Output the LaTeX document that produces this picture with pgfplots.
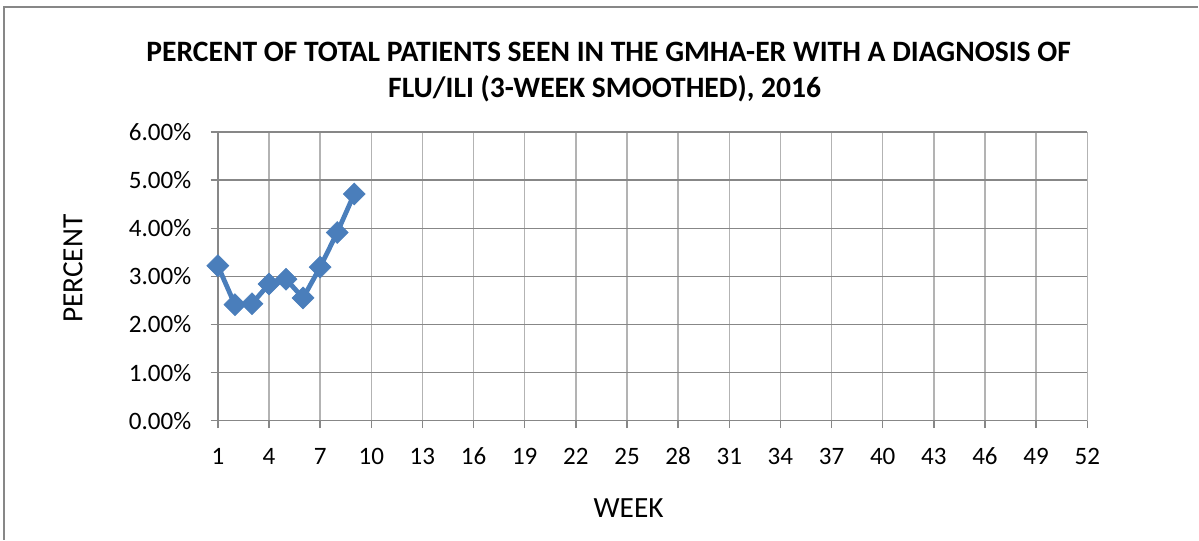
\documentclass[border=0pt]{standalone}
\usepackage{pgfplots}
\pgfplotsset{compat=1.18}
\usepackage{fontspec}
\setmainfont{Carlito}
\definecolor{serieblue}{HTML}{4A7EBB}
\definecolor{hgrid}{HTML}{878787}
\definecolor{vgrid}{HTML}{B3B3B3}
\begin{document}
\begin{tikzpicture}[x=0.75pt,y=0.75pt]
\path (0,0) rectangle (1199,540);
\draw[color=hgrid, line width=1.2pt] (4,0) -- (4,533) -- (1199,533);
\begin{axis}[
  at={(163.5pt,89.25pt)}, anchor=south west,
  scale only axis, width=652.5pt, height=216.75pt,
  xmin=1, xmax=52, ymin=0, ymax=6,
  xtick={1,4,...,52},
  xticklabels={1,4,7,10,13,16,19,22,25,28,31,34,37,40,43,46,49,52},
  ytick={0,1,2,3,4,5,6},
  yticklabels={0.00\%,1.00\%,2.00\%,3.00\%,4.00\%,5.00\%,6.00\%},
  tick align=outside, tick pos=left,
  major tick length=5.5pt,
  tick style={color=hgrid, line width=1pt},
  axis x line*=bottom, axis y line*=left,
  axis line style={color=hgrid, line width=1pt, -},
  ymajorgrids, xmajorgrids,
  y grid style={color=hgrid, line width=1pt},
  x grid style={color=vgrid, line width=1pt},
  ticklabel style={font=\fontsize{18.8}{21}\selectfont, color=black},
  xticklabel style={yshift=-11pt, text height=13pt, text depth=0pt},
  yticklabel style={xshift=-11pt},
  clip=false,
]
\addplot[color=serieblue, line width=3.6pt, mark=square*, mark size=5.8pt,
  mark options={rotate=45, line width=0.5pt, fill=serieblue, draw=serieblue}]
  coordinates {(1,3.22) (2,2.41) (3,2.43) (4,2.84) (5,2.94) (6,2.55) (7,3.19) (8,3.91) (9,4.71)};
\end{axis}
\node[anchor=base, font=\bfseries\fontsize{22.2}{25}\selectfont] at (609,478) {PERCENT OF TOTAL PATIENTS SEEN IN THE GMHA-ER WITH A DIAGNOSIS OF};
\node[anchor=base, font=\bfseries\fontsize{22.2}{25}\selectfont] at (605,442) {FLU/ILI (3-WEEK SMOOTHED), 2016};
\node[rotate=90, font=\fontsize{22}{25}\selectfont] at (73,271) {PERCENT};
\node[font=\fontsize{22}{25}\selectfont] at (629,32) {WEEK};
\end{tikzpicture}
\end{document}
